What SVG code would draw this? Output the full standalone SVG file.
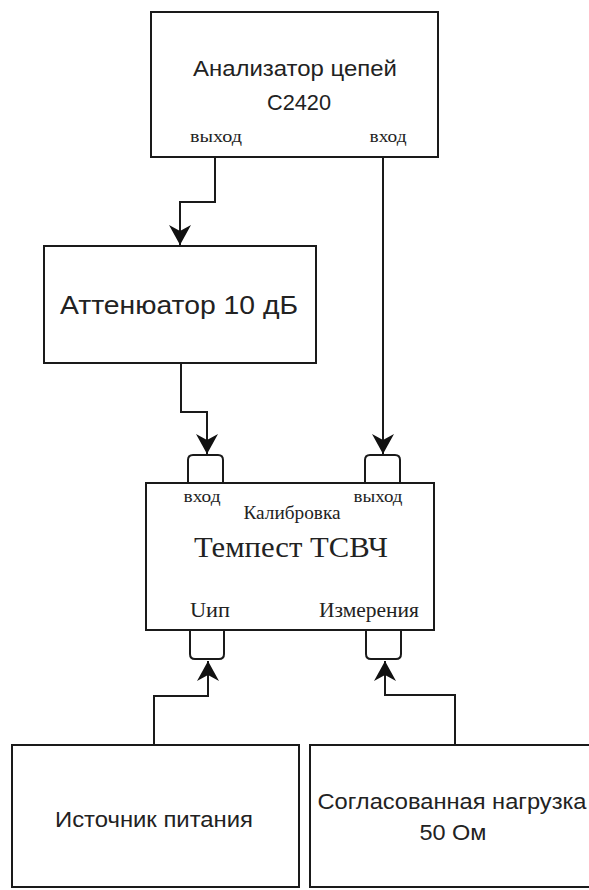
<svg xmlns="http://www.w3.org/2000/svg" width="589" height="890" viewBox="0 0 589 890">
<defs>
<style>
.box{fill:#fff;stroke:#1a1a1a;stroke-width:2}
.port{fill:#fff;stroke:#1a1a1a;stroke-width:2}
.wire{fill:none;stroke:#1a1a1a;stroke-width:2}
.sans{font-family:"Liberation Sans",Arial,sans-serif;fill:#222;text-anchor:middle}
.serif{font-family:"Liberation Serif","Times New Roman",serif;fill:#222;text-anchor:middle}
</style>
<marker id="arr" viewBox="0 0 22 22" refX="20" refY="11" markerWidth="22" markerHeight="22" markerUnits="userSpaceOnUse" orient="auto">
<path d="M20,11 L0,0 L6,11 L0,22 Z" fill="#111"/>
</marker>
</defs>
<rect width="589" height="890" fill="#fff"/>

<g id="analyzer">
<rect class="box" x="151" y="12" width="287" height="145"/>
<text class="sans" x="295" y="76" font-size="22" textLength="204" lengthAdjust="spacingAndGlyphs">Анализатор цепей</text>
<text class="sans" x="299" y="110" font-size="22" textLength="64" lengthAdjust="spacingAndGlyphs">С2420</text>
<text class="serif" x="216" y="142" font-size="17" textLength="52" lengthAdjust="spacingAndGlyphs">выход</text>
<text class="serif" x="388" y="142" font-size="17" textLength="37" lengthAdjust="spacingAndGlyphs">вход</text>
</g>

<g id="attenuator">
<rect class="box" x="44" y="246" width="272" height="117"/>
<text class="sans" x="179" y="314" font-size="26" textLength="238" lengthAdjust="spacingAndGlyphs">Аттенюатор 10 дБ</text>
</g>

<g id="tempest">
<path class="port" d="M188,483 V460 Q188,455 193,455 H218 Q223,455 223,460 V483"/>
<path class="port" d="M365,483 V460 Q365,455 370,455 H395 Q400,455 400,460 V483"/>
<path class="port" d="M190,630 V654 Q190,659 195,659 H219 Q224,659 224,654 V630"/>
<path class="port" d="M366,630 V654 Q366,659 371,659 H396 Q401,659 401,654 V630"/>
<rect class="box" x="146" y="483" width="288" height="147"/>
<text class="serif" x="202" y="502" font-size="17" textLength="37" lengthAdjust="spacingAndGlyphs">вход</text>
<text class="serif" x="378" y="502" font-size="17" textLength="49" lengthAdjust="spacingAndGlyphs">выход</text>
<text class="serif" x="292" y="519" font-size="18" textLength="97" lengthAdjust="spacingAndGlyphs">Калибровка</text>
<text class="serif" x="291" y="557" font-size="30" textLength="194" lengthAdjust="spacingAndGlyphs">Темпест ТСВЧ</text>
<text class="serif" x="210" y="617" font-size="20" textLength="40" lengthAdjust="spacingAndGlyphs">Uип</text>
<text class="serif" x="369" y="617" font-size="20" textLength="100" lengthAdjust="spacingAndGlyphs">Измерения</text>
</g>

<g id="power">
<rect class="box" x="12" y="745" width="287" height="142"/>
<text class="sans" x="154" y="827" font-size="22" textLength="198" lengthAdjust="spacingAndGlyphs">Источник питания</text>
</g>

<g id="load">
<rect class="box" x="310" y="745" width="288" height="142"/>
<text class="sans" x="452" y="809" font-size="22" textLength="269" lengthAdjust="spacingAndGlyphs">Согласованная нагрузка</text>
<text class="sans" x="453" y="840" font-size="22" textLength="67" lengthAdjust="spacingAndGlyphs">50 Ом</text>
</g>

<g id="connectors">
<path class="wire" d="M215,157 V202 H180 V245" marker-end="url(#arr)"/>
<path class="wire" d="M181,363 V412 H207 V454" marker-end="url(#arr)"/>
<path class="wire" d="M383,157 V454" marker-end="url(#arr)"/>
<path class="wire" d="M154,745 V696 H208 V661" marker-end="url(#arr)"/>
<path class="wire" d="M455,745 V695 H385 V661" marker-end="url(#arr)"/>
</g>
</svg>
